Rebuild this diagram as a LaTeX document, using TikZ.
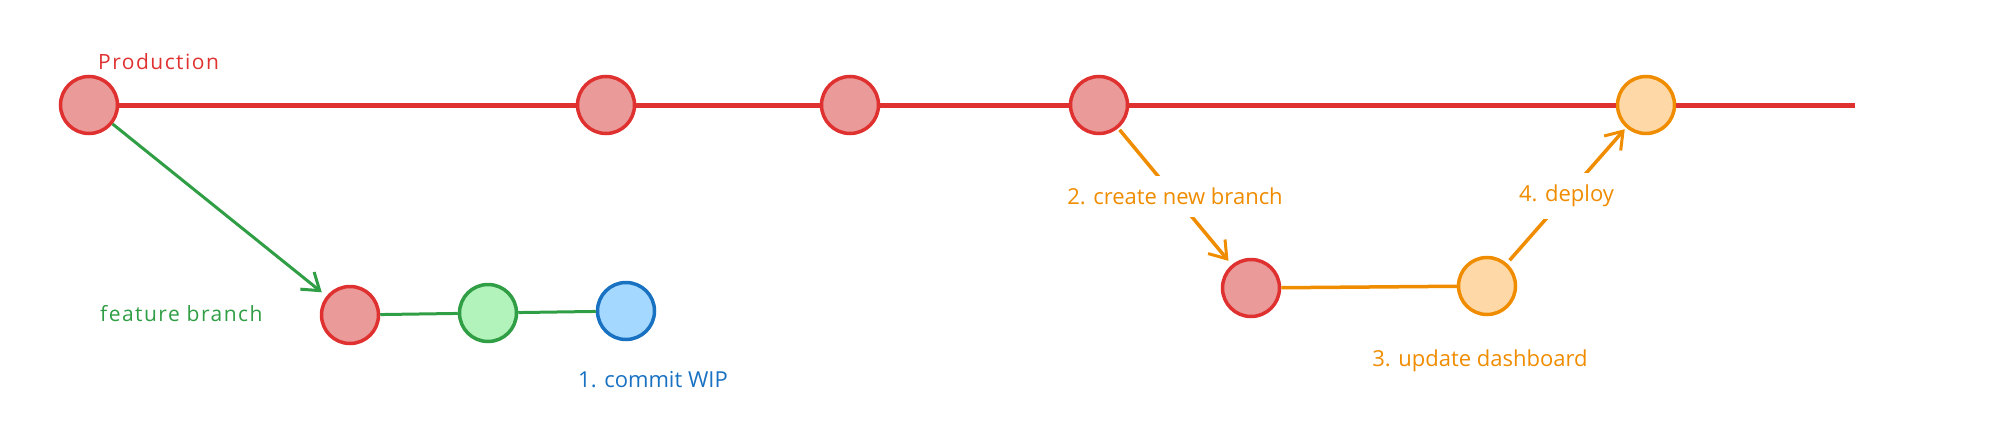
\documentclass[tikz,border=0pt]{standalone}
\usepackage{fontspec}
\setmainfont{Open Sans}
\usetikzlibrary{arrows.meta}
\definecolor{cred}{HTML}{E03131}
\definecolor{credf}{HTML}{EB9A9A}
\definecolor{cgreen}{HTML}{2F9E44}
\definecolor{cgreenf}{HTML}{B2F2BB}
\definecolor{cblue}{HTML}{1971C2}
\definecolor{cbluef}{HTML}{A5D8FF}
\definecolor{corange}{HTML}{F08C00}
\definecolor{corangef}{HTML}{FFD8A8}
\newfontfamily\handfont[LetterSpace=7]{Open Sans}
\tikzset{
  commit/.style={circle, minimum size=57pt, inner sep=0pt, line width=3.5pt},
  redc/.style={commit, draw=cred, fill=credf},
  greenc/.style={commit, draw=cgreen, fill=cgreenf},
  bluec/.style={commit, draw=cblue, fill=cbluef},
  orangec/.style={commit, draw=corange, fill=corangef},
  mainline/.style={draw=cred, line width=5pt},
  featline/.style={draw=cgreen, line width=3pt},
  hotline/.style={draw=corange, line width=3.5pt},
  barb/.style={-{Straight Barb[length=16pt, width=22pt, line width=3pt]}},
  lbl/.style={font=\fontsize{22}{26}\selectfont, inner sep=0pt},
  handlbl/.style={font=\handfont\fontsize{21}{25}\selectfont, inner sep=0pt},
  gaplbl/.style={lbl, fill=white, inner xsep=3pt, inner ysep=12pt},
}
\begin{document}
\begin{tikzpicture}[x=1pt, y=-1pt]
\useasboundingbox (0,0) rectangle (2000,428);
% production commits
\node[redc] (m1) at (89,105) {};
\node[redc] (m2) at (606,105) {};
\node[redc] (m3) at (850,105) {};
\node[redc] (m4) at (1099,105) {};
\node[orangec] (o1) at (1646,105) {};
\coordinate (mend) at (1855,105);
% feature branch commits
\node[redc] (f1) at (350,315) {};
\node[greenc] (f2) at (488,313) {};
\node[bluec] (f3) at (626,311) {};
% hotfix branch commits
\node[redc] (b1) at (1251,288) {};
\node[orangec] (b2) at (1487,286) {};
% main line
\draw[mainline] (m1) -- (m2) -- (m3) -- (m4) -- (o1) -- (mend);
% feature branch
\draw[featline, barb, shorten >=6pt] (m1) -- (f1);
\draw[featline] (f1) -- (f2) -- (f3);
% hotfix branch
\draw[hotline, barb, shorten >=5pt, shorten <=2pt] (m4) -- node[gaplbl, text=corange] {2. create new branch} (b1);
\draw[hotline] (b1) -- (b2);
\draw[hotline, barb, shorten >=2pt, shorten <=4pt] (b2) -- node[gaplbl, text=corange] {4. deploy} (o1);
% labels
\node[handlbl, text=cred, anchor=west] (lprod) at (98,62) {Production};
\node[handlbl, text=cgreen, anchor=west] (lfeat) at (100,314) {feature branch};
\node[lbl, text=cblue] (lwip) at (653,380) {1. commit WIP};
\node[lbl, text=corange] (ldash) at (1480,361) {3. update dashboard};
\end{tikzpicture}
\end{document}
